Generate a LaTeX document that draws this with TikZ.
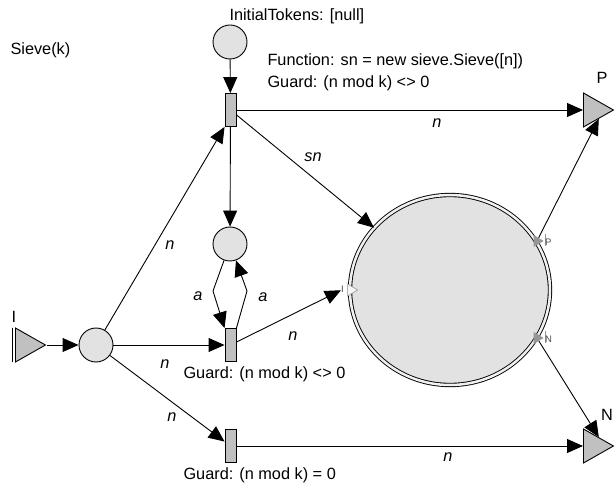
\documentclass[tikz,border=0pt]{standalone}
\usepackage{fontspec}
\setmainfont{Liberation Sans}
\usetikzlibrary{arrows.meta,positioning,calc,shapes.geometric}
\definecolor{ink}{RGB}{0,0,0}
\definecolor{placefill}{RGB}{226,226,226}
\definecolor{transfill}{RGB}{192,192,192}
\definecolor{portgray}{RGB}{150,150,150}

\begin{document}
\begin{tikzpicture}[
    x=1pt,y=-1pt,
    >={Triangle[length=16pt,width=14pt]},
    text=ink,
    every node/.style={font=\fontsize{16.3}{19}\selectfont},
    place/.style={
        circle,
        draw=ink,
        fill=placefill,
        line width=0.9pt,
        minimum size=34pt,
        inner sep=0pt
    },
    trans/.style={
        rectangle,
        draw=ink,
        fill=transfill,
        line width=0.9pt,
        minimum width=11pt,
        minimum height=33pt,
        inner sep=0pt
    },
    port/.style={
        isosceles triangle,
        isosceles triangle stretches,
        draw=ink,
        fill=transfill,
        line width=0.9pt,
        minimum width=34pt,
        minimum height=30pt,
        inner sep=0pt
    },
    sport/.style={
        isosceles triangle,
        isosceles triangle stretches,
        fill=portgray,
        minimum width=12pt,
        minimum height=10pt,
        inner sep=0pt
    },
    subnet/.style={
        ellipse,
        draw=ink,
        double=gray!12,
        double distance=2.5pt,
        line width=0.9pt,
        fill=placefill,
        minimum width=200pt,
        minimum height=190pt,
        inner sep=0pt
    },
    lbl/.style={font=\fontsize{16.3}{19}\selectfont\itshape},
    portlbl/.style={font=\fontsize{9.5}{11}\selectfont, text=gray!60!black, inner sep=0pt},
    bar/.style={draw=portgray, line width=0.8pt},
    arr/.style={->, line width=0.9pt, draw=ink},
    line/.style={line width=0.9pt, draw=ink}
]
\useasboundingbox (0,0) rectangle (616,486);

% Header texts
\node[anchor=west] (title) at (7,50) {Sieve(k)};
\node[anchor=west] (init) at (226,16) {InitialTokens: [null]};
\node[anchor=west] (func) at (264,61) {Function: sn = new sieve.Sieve([n])};
\node[anchor=west] (guard1) at (264,83) {Guard: (n mod k) <> 0};

% Places and transitions
\node[place] (p0) at (230,42) {};
\node[trans] (t1) at (230.5,110) {};
\node[place] (p1) at (230,244) {};
\node[trans] (t2) at (230.5,345) {};
\node[trans] (t3) at (230.5,446) {};
\node[place] (pin) at (96,345) {};

\node[anchor=west] (guard2) at (180,374) {Guard: (n mod k) <> 0};
\node[anchor=west] (guard3) at (180,475) {Guard: (n mod k) = 0};

% Outer ports
\node[port, anchor=west] (inport) at (15,345) {};
\draw[line] ($(inport.west)+(-2.5,-17)$) -- ++(0,34);
\node (lblI) at (14,317) {I};
\node[port, anchor=west] (outP) at (583,110) {};
\node (lblP) at (602,78) {P};
\node[port, anchor=west] (outN) at (583,446) {};
\node (lblN) at (607,415) {N};

% Sub net with its ports
\node[subnet] (sub) at (450,290) {};
\node[sport, fill=gray!8, draw=portgray, line width=0.6pt] (pI) at (351,290) {};
\node[portlbl] (lI) at (342.5,289.5) {I};
\node[sport] (pP) at (537,241) {};
\draw[bar] ($(pP.east)+(1.5,-7)$) -- ++(0,12);
\node[portlbl, anchor=west] (lP) at (545,242.5) {P};
\node[sport] (pN) at (537,338) {};
\draw[bar] ($(pN.east)+(1.5,-7)$) -- ++(0,12);
\node[portlbl, anchor=west] (lN) at (545,339.5) {N};

% Arcs
\draw[arr] (inport) -- (pin);
\draw[arr] (p0) -- (t1);
\draw[arr] (pin) -- (t1.south west);
\draw[arr] (pin) -- (t2);
\draw[arr] (pin) -- (t3);
\draw[arr] (t1) -- (outP);
\draw[arr] (t1) -- (p1);
\draw[arr] (t1) -- (sub);
\draw[arr] (t2) -- (lI);
\draw[arr] (t3) -- (outN);
\draw[arr] (pP) -- (outP.right side);
\draw[arr] (pN) -- (outN.left side);

% Read arcs between p1 and t2
\coordinate (aL) at (213,291);
\coordinate (aR) at (247,291);
\draw[arr] (p1.250) -- (aL) -- (t2.north west);
\draw[arr] (t2.north east) -- (aR) -- (p1.290);

% Arc labels
\node[lbl] (n1) at (437,123) {n};
\node[lbl] (sn) at (313,157) {sn};
\node[lbl] (n2) at (170,245) {n};
\node[lbl] (a1) at (198,296) {a};
\node[lbl] (a2) at (263,297) {a};
\node[lbl] (n3) at (165,364) {n};
\node[lbl] (n4) at (293,336) {n};
\node[lbl] (n5) at (172,417) {n};
\node[lbl] (n6) at (448,457) {n};

\end{tikzpicture}
\end{document}
